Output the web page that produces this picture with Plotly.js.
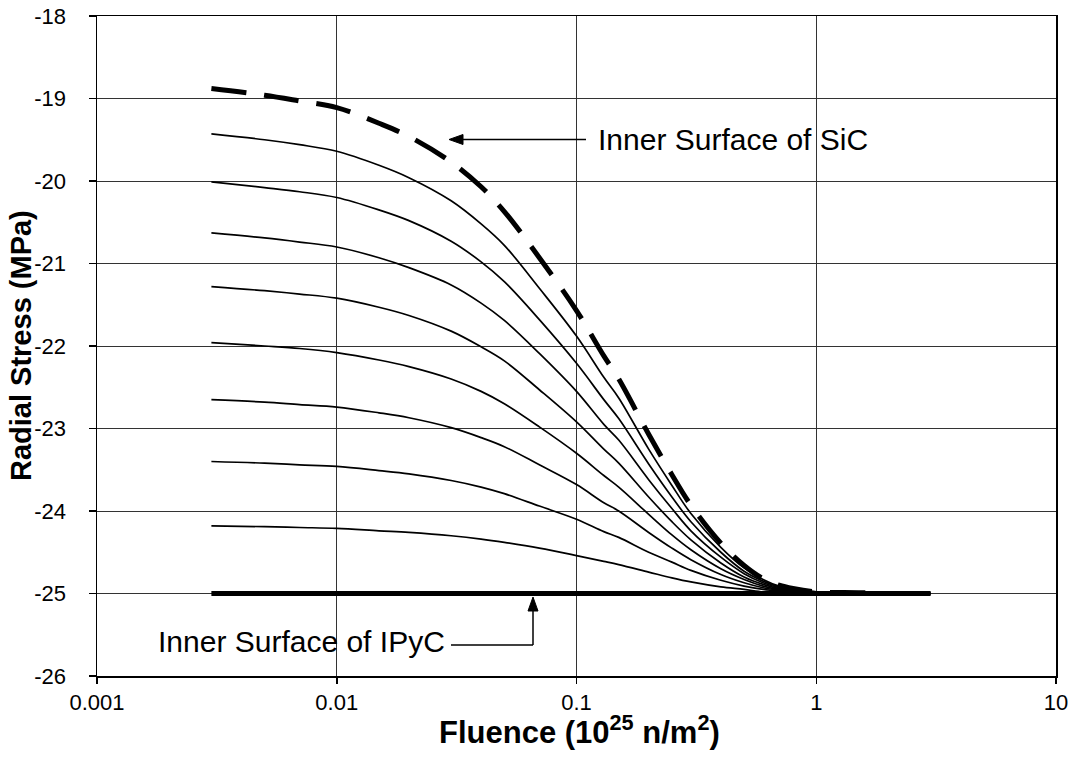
<!DOCTYPE html>
<html>
<head>
<meta charset="utf-8">
<script src="https://cdn.plot.ly/plotly-3.0.1.min.js"></script>
<style>
html,body{margin:0;padding:0;background:#fff;}
#chart{width:1075px;height:761px;}
</style>
</head>
<body>
<div id="chart"></div>
<script>
// Fluence values (10^25 n/m^2)
const fluence = [0.003, 0.005, 0.007, 0.01, 0.015, 0.02, 0.03, 0.04, 0.05, 0.07, 0.1, 0.13, 0.15, 0.2, 0.25, 0.3, 0.4, 0.5, 0.6, 0.7, 0.8, 1, 1.5, 2, 3];

// Radial stress (MPa)
const sicInner = [-18.88, -18.96, -19.03, -19.11, -19.30, -19.46, -19.77, -20.07, -20.37, -20.93, -21.57, -22.12, -22.40, -23.07, -23.56, -23.93, -24.39, -24.66, -24.82, -24.90, -24.94, -24.98, -24.99, -25.00, -25.00];
const curve1 = [-19.43, -19.50, -19.56, -19.64, -19.81, -19.96, -20.24, -20.52, -20.78, -21.30, -21.88, -22.38, -22.63, -23.25, -23.69, -24.03, -24.44, -24.69, -24.83, -24.91, -24.94, -24.98, -24.99, -25.00, -25.00];
const curve2 = [-20.01, -20.08, -20.13, -20.20, -20.35, -20.48, -20.73, -20.98, -21.22, -21.68, -22.21, -22.65, -22.88, -23.43, -23.83, -24.13, -24.50, -24.73, -24.85, -24.92, -24.95, -24.98, -25.00, -25.00, -25.00];
const curve3 = [-20.63, -20.69, -20.74, -20.80, -20.93, -21.05, -21.26, -21.48, -21.69, -22.09, -22.55, -22.95, -23.14, -23.62, -23.97, -24.24, -24.56, -24.76, -24.87, -24.93, -24.96, -24.98, -25.00, -25.00, -25.00];
const curve4 = [-21.28, -21.33, -21.37, -21.42, -21.53, -21.63, -21.82, -22.01, -22.18, -22.53, -22.92, -23.25, -23.42, -23.83, -24.13, -24.35, -24.63, -24.80, -24.89, -24.94, -24.96, -24.99, -25.00, -25.00, -25.00];
const curve5 = [-21.96, -22.00, -22.03, -22.08, -22.17, -22.25, -22.40, -22.55, -22.70, -22.98, -23.30, -23.57, -23.71, -24.04, -24.29, -24.47, -24.70, -24.83, -24.91, -24.95, -24.97, -24.99, -25.00, -25.00, -25.00];
const curve6 = [-22.65, -22.68, -22.71, -22.74, -22.81, -22.87, -22.99, -23.11, -23.22, -23.44, -23.68, -23.90, -24.00, -24.26, -24.45, -24.59, -24.77, -24.87, -24.93, -24.96, -24.98, -24.99, -25.00, -25.00, -25.00];
const curve7 = [-23.40, -23.42, -23.44, -23.46, -23.51, -23.55, -23.63, -23.71, -23.79, -23.94, -24.10, -24.25, -24.32, -24.50, -24.62, -24.72, -24.84, -24.91, -24.95, -24.97, -24.98, -24.99, -25.00, -25.00, -25.00];
const curve8 = [-24.18, -24.19, -24.20, -24.21, -24.24, -24.26, -24.30, -24.34, -24.38, -24.45, -24.54, -24.61, -24.65, -24.74, -24.81, -24.86, -24.92, -24.95, -24.98, -24.99, -24.99, -25.00, -25.00, -25.00, -25.00];
const ipycInner = [-25, -25, -25, -25, -25, -25, -25, -25, -25, -25, -25, -25, -25, -25, -25, -25, -25, -25, -25, -25, -25, -25, -25, -25, -25];

// Tick labels
const xTickVals = [0.001, 0.01, 0.1, 1, 10];
const xTickText = ["0.001", "0.01", "0.1", "1", "10"];
const yTickVals = [-26, -25, -24, -23, -22, -21, -20, -19, -18];
const yTickText = ["-26", "-25", "-24", "-23", "-22", "-21", "-20", "-19", "-18"];

// Axis titles and labels
const xTitle = '<b>Fluence (10<sup>25</sup> n/m<sup>2</sup>)</b>';
const yTitle = '<b>Radial Stress (MPa)</b>';
const sicLabel = 'Inner Surface of SiC';
const ipycLabel = 'Inner Surface of IPyC';

const thinCurves = [curve1, curve2, curve3, curve4, curve5, curve6, curve7, curve8];

const FONT = '"Liberation Sans", Arial, sans-serif';

const traces = thinCurves.map((ys, i) => ({
  x: fluence, y: ys, type: 'scatter', mode: 'lines',
  line: {color: '#000', width: 1.7, shape: 'spline', smoothing: 1},
  name: 'Layer ' + (i + 1), showlegend: false
}));
traces.push({
  x: fluence, y: sicInner, type: 'scatter', mode: 'lines',
  line: {color: '#000', width: 5, dash: '35px,18px', shape: 'spline', smoothing: 1},
  name: sicLabel, showlegend: false
});
traces.push({
  x: fluence, y: ipycInner, type: 'scatter', mode: 'lines',
  line: {color: '#000', width: 5},
  name: ipycLabel, showlegend: false
});

const L = 97, R = 1056, T = 16, B = 676;
const W = R - L, H = B - T;
const px = v => (v - L) / W;
const py = v => (B - v) / H;

// arrow helpers (paper coordinates from pixel positions)
const seg = (x0, y0, x1, y1) => ({type: 'line', xref: 'paper', yref: 'paper',
  x0: px(x0), y0: py(y0), x1: px(x1), y1: py(y1), line: {color: '#000', width: 1.5}});
const tri = (pts) => ({type: 'path', xref: 'paper', yref: 'paper',
  path: 'M' + pts.map(p => px(p[0]) + ',' + py(p[1])).join(' L') + ' Z',
  fillcolor: '#000', line: {color: '#000', width: 1}});

const layout = {
  width: 1075, height: 761,
  margin: {l: L, r: 1075 - R, t: T, b: 761 - B},
  paper_bgcolor: '#fff', plot_bgcolor: '#fff',
  font: {family: FONT, color: '#000', size: 22},
  showlegend: false,
  xaxis: {
    type: 'log', range: [-3, 1],
    tickvals: xTickVals, ticktext: xTickText,
    ticks: 'outside', ticklen: 6, tickwidth: 1.5, tickcolor: '#000',
    ticklabelstandoff: 0,
    showgrid: true, gridcolor: '#333', gridwidth: 1,
    showline: true, linecolor: '#000', linewidth: 1.5, mirror: true,
    zeroline: false,
    tickfont: {family: FONT, size: 22, color: '#000'}
  },
  yaxis: {
    range: [-26, -18],
    tickvals: yTickVals, ticktext: yTickText,
    ticks: 'outside', ticklen: 7, tickwidth: 1.5, tickcolor: '#000',
    ticklabelstandoff: 18,
    showgrid: true, gridcolor: '#333', gridwidth: 1,
    showline: true, linecolor: '#000', linewidth: 1.5, mirror: true,
    zeroline: false,
    tickfont: {family: FONT, size: 22, color: '#000'}
  },
  annotations: [
    {xref: 'paper', yref: 'paper', x: px(579), y: py(730), xanchor: 'center', yanchor: 'middle',
     text: xTitle, showarrow: false, font: {family: FONT, size: 31, color: '#000'}},
    {xref: 'paper', yref: 'paper', x: px(21), y: py(346), xanchor: 'center', yanchor: 'middle',
     textangle: -90, text: yTitle, showarrow: false, font: {family: FONT, size: 29, color: '#000'}},
    {xref: 'paper', yref: 'paper', x: px(596), y: py(139), xanchor: 'left', yanchor: 'middle',
     text: sicLabel, showarrow: false, font: {family: FONT, size: 30, color: '#000'}},
    {xref: 'paper', yref: 'paper', x: px(156), y: py(641), xanchor: 'left', yanchor: 'middle',
     text: ipycLabel, showarrow: false, font: {family: FONT, size: 30, color: '#000'}}
  ],
  shapes: [
    seg(586, 139.5, 460, 139.5),
    tri([[449, 139.5], [463, 134.5], [463, 144.5]]),
    seg(451, 645, 533, 645),
    seg(533, 645, 533, 608),
    tri([[533, 597], [528, 611], [538, 611]])
  ]
};

Plotly.newPlot('chart', traces, layout, {displayModeBar: false, staticPlot: true});
</script>
</body>
</html>
